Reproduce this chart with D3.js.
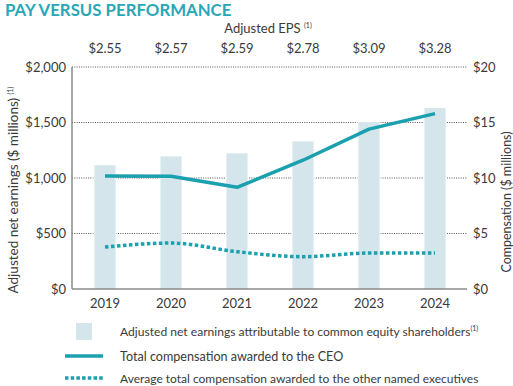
<!DOCTYPE html>
<html><head><meta charset="utf-8">
<script src="https://cdn.jsdelivr.net/npm/d3@7"></script>
<style>
html,body{margin:0;padding:0;background:#fff;}
svg{display:block;font-family:Lato,"Open Sans",sans-serif;}
</style></head>
<body>
<svg id="c" width="513" height="386"></svg>
<script>
const years = ["2019","2020","2021","2022","2023","2024"];
const epsLabels = ["$2.55","$2.57","$2.59","$2.78","$3.09","$3.28"];
const netEarnings = [1115, 1195, 1222, 1330, 1504, 1630];
const ceoComp = [10.18, 10.15, 9.16, 11.6, 14.4, 15.8];
const neoComp = [3.78, 4.14, 3.36, 2.91, 3.24, 3.24];
const leftTicks = [0, 500, 1000, 1500, 2000];
const rightTicks = [0, 5, 10, 15, 20];

const teal = "#1aa0af", barCol = "#d4e6ec", txt = "#3a3a3a";
const svg = d3.select("#c");
const L = 72, R = 468, T = 67, B = 289;

const x = d3.scaleBand().domain(years).range([L, R]).paddingInner(0.68).paddingOuter(0.34);
const yL = d3.scaleLinear().domain([0, 2000]).range([B, T]);
const yR = d3.scaleLinear().domain([0, 20]).range([B, T]);
const cx = d => x(d) + x.bandwidth() / 2;

// title
svg.append("text").attr("x", 5).attr("y", 16).attr("fill", "#2aa7b7")
  .attr("font-size", 16.8).attr("font-weight", 700).text("PAY VERSUS PERFORMANCE");

// EPS header
const eh = svg.append("text").attr("x", 268).attr("y", 33).attr("text-anchor", "middle")
  .attr("fill", txt).attr("font-size", 13);
eh.append("tspan").text("Adjusted EPS ");
eh.append("tspan").attr("font-size", 7).attr("dy", -5).text("(1)");

svg.selectAll(".eps").data(years).enter().append("text")
  .attr("x", d => cx(d)).attr("y", 53).attr("text-anchor", "middle")
  .attr("fill", txt).attr("font-size", 13).text((d, i) => epsLabels[i]);

// gridlines
svg.append("g").selectAll("line").data(leftTicks.filter(t => t > 0)).enter().append("line")
  .attr("x1", L).attr("x2", 467).attr("y1", d => yL(d)).attr("y2", d => yL(d))
  .attr("stroke", "#555").attr("stroke-width", 1).attr("stroke-dasharray", "1,1.3");

// bars
svg.append("g").selectAll("rect").data(years).enter().append("rect")
  .attr("x", d => x(d) - 1).attr("width", x.bandwidth() + 2)
  .attr("y", (d, i) => yL(netEarnings[i])).attr("height", (d, i) => B - yL(netEarnings[i]))
  .attr("fill", "#fff");
svg.append("g").selectAll("rect").data(years).enter().append("rect")
  .attr("x", d => x(d)).attr("width", x.bandwidth())
  .attr("y", (d, i) => yL(netEarnings[i])).attr("height", (d, i) => B - yL(netEarnings[i]))
  .attr("fill", barCol);

// axes
svg.append("line").attr("x1", L).attr("x2", L).attr("y1", T).attr("y2", B)
  .attr("stroke", "#8a8a8a").attr("stroke-width", 1.5);
svg.append("line").attr("x1", L).attr("x2", 467).attr("y1", B).attr("y2", B)
  .attr("stroke", "#8a8a8a").attr("stroke-width", 1.5);

svg.append("g").selectAll("text").data(leftTicks).enter().append("text")
  .attr("x", 66).attr("y", d => yL(d) + 4.5).attr("text-anchor", "end")
  .attr("fill", txt).attr("font-size", 13).text(d => "$" + d3.format(",")(d));
svg.append("g").selectAll("text").data(rightTicks).enter().append("text")
  .attr("x", 473).attr("y", d => yR(d) + 4.5).attr("text-anchor", "start")
  .attr("fill", txt).attr("font-size", 13).text(d => "$" + d);

svg.append("g").selectAll("text").data(years).enter().append("text")
  .attr("x", d => cx(d)).attr("y", 308).attr("text-anchor", "middle")
  .attr("fill", txt).attr("font-size", 13).text(d => d);

// axis titles
const lt = svg.append("text").attr("transform", "translate(18,190) rotate(-90)")
  .attr("text-anchor", "middle").attr("fill", txt).attr("font-size", 13.5);
lt.append("tspan").text("Adjusted net earnings ($ millions) ");
lt.append("tspan").attr("font-size", 7).attr("dy", -5).text("(1)");
svg.append("text").attr("transform", "translate(511,202) rotate(-90)")
  .attr("text-anchor", "middle").attr("fill", txt).attr("font-size", 12.5)
  .text("Compensation  ($ millions)");

// lines
const ceoLine = d3.line().x((d, i) => cx(years[i])).y(d => yR(d));
svg.append("path").datum(ceoComp).attr("d", ceoLine).attr("fill", "none")
  .attr("stroke", teal).attr("stroke-width", 3.5).attr("stroke-linejoin", "round");
const neoLine = d3.line().x((d, i) => cx(years[i])).y(d => yR(d)).curve(d3.curveMonotoneX);
svg.append("path").datum(neoComp).attr("d", neoLine).attr("fill", "none")
  .attr("stroke", teal).attr("stroke-width", 3.5).attr("stroke-dasharray", "3.5,2.5");

// legend
svg.append("rect").attr("x", 76).attr("y", 323).attr("width", 16).attr("height", 17).attr("fill", barCol);
svg.append("line").attr("x1", 65).attr("x2", 103).attr("y1", 356).attr("y2", 356)
  .attr("stroke", teal).attr("stroke-width", 3.5);
svg.append("line").attr("x1", 65).attr("x2", 103).attr("y1", 378).attr("y2", 378)
  .attr("stroke", teal).attr("stroke-width", 3.5).attr("stroke-dasharray", "3.5,2.2");
const l1 = svg.append("text").attr("x", 120).attr("y", 336).attr("fill", txt).attr("font-size", 12.1);
l1.append("tspan").text("Adjusted net earnings attributable to common equity shareholders");
l1.append("tspan").attr("font-size", 7).attr("dy", -5).text("(1)");
svg.append("text").attr("x", 120).attr("y", 360.5).attr("fill", txt).attr("font-size", 12.6)
  .text("Total compensation awarded to the CEO");
svg.append("text").attr("x", 120).attr("y", 382.5).attr("fill", txt).attr("font-size", 12.0)
  .text("Average total compensation awarded to the other named executives");
</script>
</body></html>
